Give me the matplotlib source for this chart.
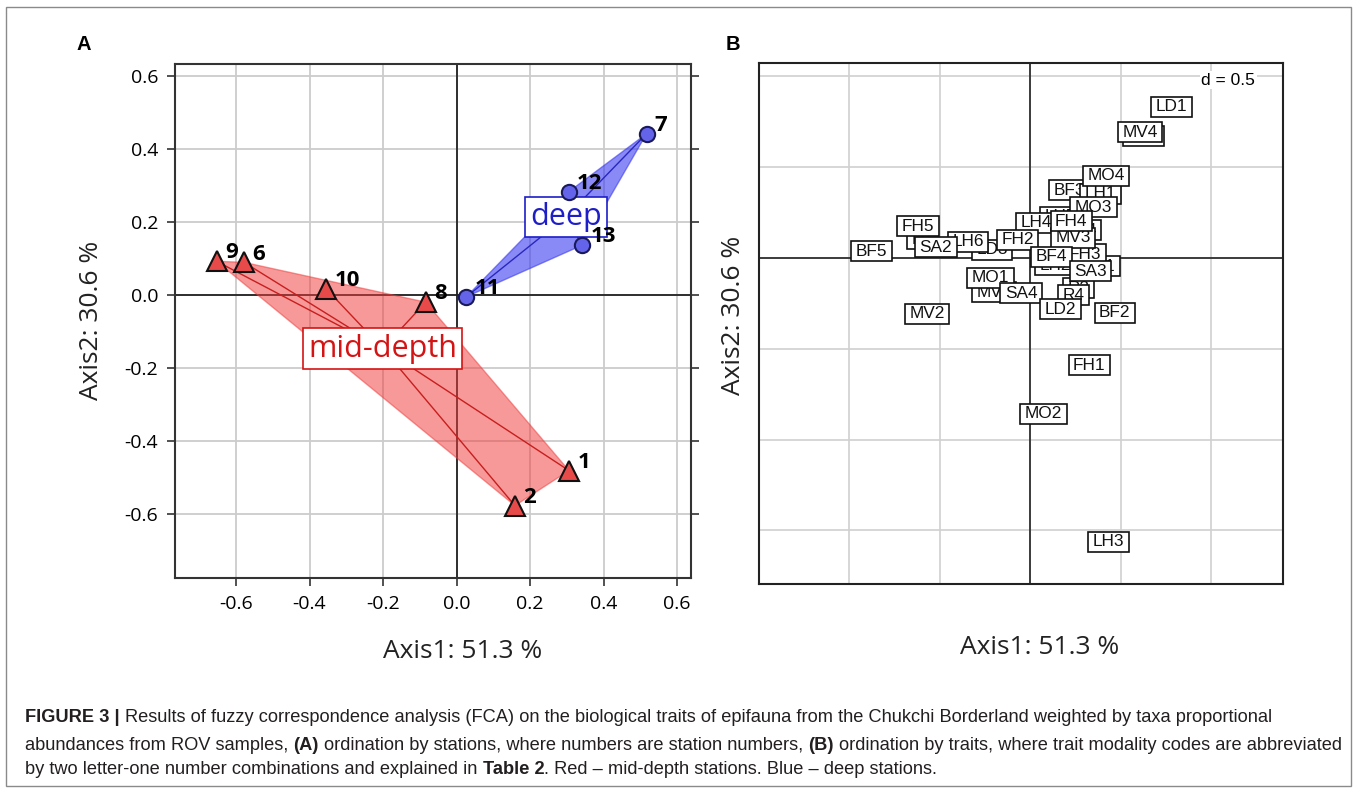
import numpy as np
import matplotlib
matplotlib.use("Agg")
import matplotlib.pyplot as plt
from matplotlib.patches import Polygon, Rectangle
from matplotlib.transforms import IdentityTransform
from matplotlib import font_manager

plt.rcParams['axes.unicode_minus'] = False

W, H = 1357, 789

# ------------------------------------------------------------------
# panel A : station scores (FCA axis 1 / axis 2)
station_ids = ["9", "6", "10", "8", "1", "2", "11", "12", "13", "7"]
station_x = [-0.653, -0.578, -0.354, -0.084, 0.306, 0.159, 0.027, 0.305, 0.342, 0.517]
station_y = [0.092, 0.089, 0.016, -0.020, -0.481, -0.577, -0.005, 0.282, 0.136, 0.441]
station_group = ["mid-depth"] * 6 + ["deep"] * 4
group_names = ["mid-depth", "deep"]
axis_ticks = [-0.6, -0.4, -0.2, 0.0, 0.2, 0.4, 0.6]

# ------------------------------------------------------------------
# panel B : trait modality scores (drawing order = stacking order)
trait_codes = ["BF1", "R1", "LH5", "LD4", "LH2", "SA1", "R3", "R2", "LD3", "FH3",
               "BF3", "LH1", "MO4", "MO3", "LH4", "MV3", "FH4", "FH5", "LH6", "SA2",
               "FH2", "BF4", "SA3", "MV1", "MO1", "SA4", "R4", "LD2", "BF2", "MV2",
               "FH1", "MO2", "LH3", "BF5", "MV4", "LD1"]
trait_x = [0.626, -0.595, 0.167, 0.281, 0.141, 0.379, 0.265, -0.190, -0.212, 0.303,
           0.217, 0.390, 0.420, 0.351, 0.032, 0.236, 0.227, -0.621, -0.344, -0.522,
           -0.071, 0.117, 0.333, -0.201, -0.221, -0.050, 0.238, 0.167, 0.468, -0.570,
           0.327, 0.074, 0.433, -0.877, 0.608, 0.782]
trait_y = [0.672, 0.103, 0.227, 0.152, -0.040, -0.045, -0.166, -0.120, 0.045, 0.022,
           0.374, 0.354, 0.453, 0.279, 0.194, 0.111, 0.202, 0.174, 0.089, 0.059,
           0.101, 0.006, -0.073, -0.188, -0.109, -0.194, -0.206, -0.283, -0.302, -0.308,
           -0.591, -0.858, -1.562, 0.038, 0.694, 0.834]
grid_b = [-1.5, -1.0, -0.5, 0.0, 0.5, 1.0]

# caption pieces: (text, bold, space before)
caption = [
    [("FIGURE 3 |", True, False),
     ("Results of fuzzy correspondence analysis (FCA) on the biological traits of epifauna from the "
      "Chukchi Borderland weighted by taxa proportional", False, True)],
    [("abundances from ROV samples,", False, False), ("(A)", True, True),
     ("ordination by stations, where numbers are station numbers,", False, True), ("(B)", True, True),
     ("ordination by traits, where trait modality codes are abbreviated", False, True)],
    [("by two letter-one number combinations and explained in", False, False), ("Table 2", True, True),
     (". Red \u2013 mid-depth stations. Blue \u2013 deep stations.", False, False)],
]

# ------------------------------------------------------------------
style = {
    "mid-depth": dict(fill="#f03c3c", alpha=0.52, line="#c81e1e", marker="^", ms=14,
                      mfc="#e84a4a", mec="#111111", text="#d41414"),
    "deep": dict(fill="#3c3cf0", alpha=0.6, line="#2828c0", marker="o", ms=11,
                 mfc="#6464ea", mec="#1a1a5a", text="#1e1ec8"),
}


def has_font(name):
    try:
        font_manager.findfont(font_manager.FontProperties(family=name), fallback_to_default=False)
        return True
    except ValueError:
        return False


def convex_hull(pts):
    pts = sorted(map(tuple, pts))

    def cross(o, a, b):
        return (a[0] - o[0]) * (b[1] - o[1]) - (a[1] - o[1]) * (b[0] - o[0])
    lower, upper = [], []
    for p in pts:
        while len(lower) >= 2 and cross(lower[-2], lower[-1], p) <= 0:
            lower.pop()
        lower.append(p)
    for p in reversed(pts):
        while len(upper) >= 2 and cross(upper[-2], upper[-1], p) <= 0:
            upper.pop()
        upper.append(p)
    return lower[:-1] + upper[:-1]


SANS_A = ["Open Sans", "DejaVu Sans"]
SANS_B = ["Liberation Sans", "DejaVu Sans"]
CAP_FONT = ["Liberation Sans Narrow", "DejaVu Sans"] if has_font("Liberation Sans Narrow") else SANS_B

fig = plt.figure(figsize=(W / 100, H / 100), dpi=100)
fig.patch.set_facecolor("white")

# ------------------------------------------------------------------
# panel A
axA = fig.add_axes([175 / W, 1 - 578 / H, 516 / W, 514 / H])
axA.set_xlim(-0.766, 0.638)
axA.set_ylim(-0.775, 0.632)
axA.set_xticks(axis_ticks)
axA.set_yticks(axis_ticks)
axA.set_xticklabels([f"{t:.1f}" for t in axis_ticks], family=SANS_A, fontsize=14)
axA.set_yticklabels([f"{t:.1f}" for t in axis_ticks], family=SANS_A, fontsize=14)
axA.tick_params(direction="out", length=6, width=1.2, pad=6, color="#333333", right=True)
axA.grid(True, color="#cccccc", lw=1.3)
axA.set_axisbelow(True)
axA.axhline(0, color="#222222", lw=1.3, zorder=0.8)
axA.axvline(0, color="#222222", lw=1.3, zorder=0.8)
for s in axA.spines.values():
    s.set_linewidth(1.5)
    s.set_color("#333333")

sx = np.array(station_x)
sy = np.array(station_y)
grp = np.array(station_group)
for g in group_names:
    st = style[g]
    m = grp == g
    gx, gy = sx[m], sy[m]
    cx, cy = gx.mean(), gy.mean()
    hull = convex_hull(np.column_stack([gx, gy]))
    axA.add_patch(Polygon(hull, closed=True, fc=st["fill"], ec=st["fill"], alpha=st["alpha"],
                          lw=1, zorder=1))
    for px, py in zip(gx, gy):
        axA.plot([px, cx], [py, cy], color=st["line"], lw=1.0, zorder=2)
    axA.plot(gx, gy, ls="none", marker=st["marker"], ms=st["ms"], mfc=st["mfc"],
             mec=st["mec"], mew=1.5, zorder=4)
    axA.text(cx, cy, g, ha="center", va="center", fontsize=22, color=st["text"],
             family=SANS_A, zorder=3,
             bbox=dict(boxstyle="square,pad=0.17", fc="white", ec=st["text"], lw=1.2))

for lab, px, py in zip(station_ids, station_x, station_y):
    axA.annotate(lab, (px, py), xytext=(6, 6), textcoords="offset points", ha="left",
                 va="center", fontsize=16, fontweight="bold", family=SANS_A, zorder=5)

fig.text(463 / W, 1 - 652 / H, "Axis1: 51.3 %", ha="center", va="center", fontsize=19,
         family=SANS_A, color="#222222")
fig.text(92 / W, 1 - 320 / H, "Axis2: 30.6 %", ha="center", va="center", fontsize=19,
         family=SANS_A, color="#222222", rotation=90)
fig.text(84 / W, 1 - 45 / H, "A", ha="center", va="center", fontsize=14.5, fontweight="bold",
         family=SANS_B)

# ------------------------------------------------------------------
# panel B
axB = fig.add_axes([759 / W, 1 - 584 / H, 524 / W, 521 / H])
axB.set_xlim(-1.487, 1.398)
axB.set_ylim(-1.795, 1.074)
axB.set_xticks(grid_b)
axB.set_yticks(grid_b)
axB.tick_params(length=0, labelbottom=False, labelleft=False)
axB.grid(True, color="#d0d0d0", lw=1.2)
axB.set_axisbelow(True)
axB.axhline(0, color="#222222", lw=1.2, zorder=0.8)
axB.axvline(0, color="#222222", lw=1.2, zorder=0.8)
for s in axB.spines.values():
    s.set_linewidth(1.5)
    s.set_color("#222222")

axB.text(0.947, 0.967, "d = 0.5", transform=axB.transAxes, ha="right", va="center",
         fontsize=12.5, family=SANS_B, bbox=dict(boxstyle="square,pad=0.1", fc="white", ec="none"))

fig.text(1040 / W, 1 - 648 / H, "Axis1: 51.3 %", ha="center", va="center", fontsize=19,
         family=SANS_A, color="#222222")
fig.text(733 / W, 1 - 315 / H, "Axis2: 30.6 %", ha="center", va="center", fontsize=19,
         family=SANS_A, color="#222222", rotation=90)
fig.text(733 / W, 1 - 45 / H, "B", ha="center", va="center", fontsize=14.5, fontweight="bold",
         family=SANS_B)

fig.canvas.draw()
renderer = fig.canvas.get_renderer()

box_h = 20
for i, (code, tx, ty) in enumerate(zip(trait_codes, trait_x, trait_y)):
    t = axB.text(tx, ty, code, ha="center", va="center", fontsize=12.4, family=SANS_B,
                 color="#111111", zorder=4 + 2 * i)
    ext = t.get_window_extent(renderer)
    px, py = axB.transData.transform((tx, ty))
    bw = ext.width + 9
    rect = Rectangle((px - bw / 2, py - box_h / 2), bw, box_h, transform=IdentityTransform(),
                     fc="white", ec="#111111", lw=1.2, zorder=3 + 2 * i)
    rect.set_clip_path(axB.patch)
    axB.add_patch(rect)

# ------------------------------------------------------------------
# caption, widths fitted to the reference line length
def measure(txt, size, bold):
    t = fig.text(0, 0, txt, fontsize=size, fontweight="bold" if bold else "normal",
                 family=CAP_FONT)
    w = t.get_window_extent(renderer).width
    t.remove()
    return w


def line_width(parts, size):
    gap = measure("a a", size, False) - measure("aa", size, False)
    total = 0
    for txt, bold, sp in parts:
        total += (gap if sp else 0) + measure(txt, size, bold)
    return total


base = 10.0
cap_size = base * 1321 / line_width(caption[1], base)
gap = measure("a a", cap_size, False) - measure("aa", cap_size, False)
for parts, yc in zip(caption, [718, 745, 770]):
    x = 25
    for txt, bold, sp in parts:
        if sp:
            x += gap
        t = fig.text(x / W, 1 - yc / H, txt, fontsize=cap_size,
                     fontweight="bold" if bold else "normal", family=CAP_FONT,
                     ha="left", va="center", color="#231f20")
        x += t.get_window_extent(renderer).width

fig.add_artist(Rectangle((6 / W, 1 - 786 / H), 1345 / W, 779 / H, transform=fig.transFigure,
                         fill=False, ec="#8a8a8a", lw=1.0))

fig.savefig("out.png", dpi=100)
